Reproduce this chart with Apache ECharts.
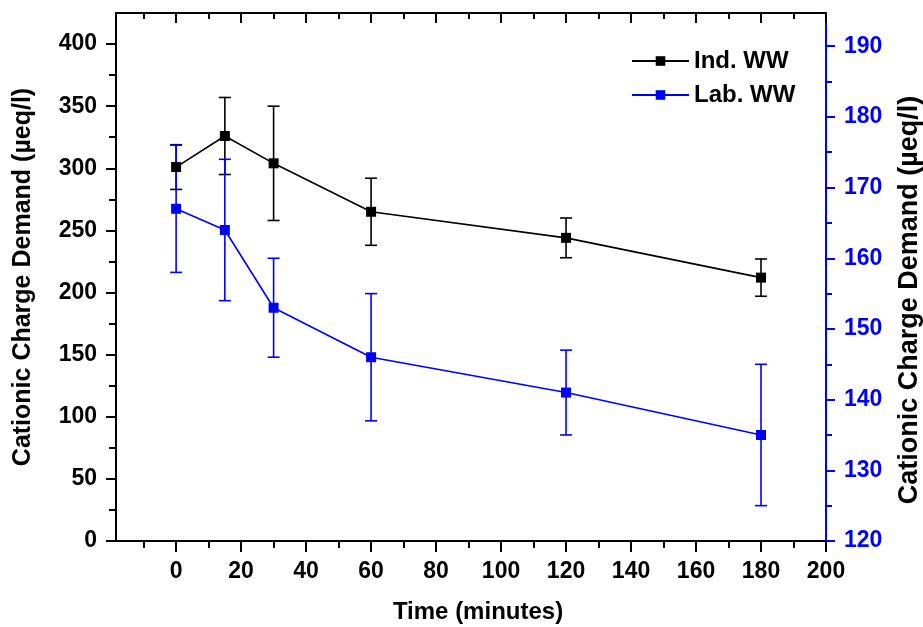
<!DOCTYPE html>
<html>
<head>
<meta charset="utf-8">
<title>Cationic Charge Demand</title>
<script src="https://cdn.jsdelivr.net/npm/echarts@6/dist/echarts.min.js"></script>
<style>
    html, body { margin: 0; padding: 0; background: #fff; }
    #chart { width: 923px; height: 627px; }
</style>
</head>
<body>
<div id="chart"></div>
<script>
// values
const times = [0, 15, 30, 60, 120, 180];
const indWW = [301, 326, 304, 265, 244, 212];
const indErr = [18, 31, 46, 27, 16, 15];
const labWW = [167, 164, 153, 146, 141, 135];
const labErr = [9, 10, 7, 9, 6, 10];

const xMajor = [0, 20, 40, 60, 80, 100, 120, 140, 160, 180, 200];
const xMinor = [-10, 10, 30, 50, 70, 90, 110, 130, 150, 170, 190];
const leftMajor = [0, 50, 100, 150, 200, 250, 300, 350, 400];
const leftMinor = [25, 75, 125, 175, 225, 275, 325, 375];
const rightMajor = [120, 130, 140, 150, 160, 170, 180, 190];
const rightMinor = [125, 135, 145, 155, 165, 175, 185];

const BLUE = '#0000ff';
const FONT = '"Liberation Sans", Arial, sans-serif';

let chart = echarts.init(document.getElementById('chart'));

function errorBars(values, errs) {
    return times.map(function (t, i) {
        return [t, values[i] - errs[i], values[i] + errs[i]];
    });
}

function renderErr(params, api) {
    let x = api.value(0);
    let top = api.coord([x, api.value(2)]);
    let bot = api.coord([x, api.value(1)]);
    let w = 6;
    let style = { stroke: api.visual('color'), lineWidth: 1.6 };
    return {
        type: 'group',
        children: [
            { type: 'line', shape: { x1: top[0], y1: top[1], x2: bot[0], y2: bot[1] }, style: style },
            { type: 'line', shape: { x1: top[0] - w, y1: top[1], x2: top[0] + w, y2: top[1] }, style: style },
            { type: 'line', shape: { x1: bot[0] - w, y1: bot[1], x2: bot[0] + w, y2: bot[1] }, style: style }
        ]
    };
}

// only ticks, for the minor/extra axes
function tickAxis(extra) {
    return Object.assign({
        type: 'value',
        axisLine: { show: false, onZero: false },
        axisLabel: { show: false },
        splitLine: { show: false }
    }, extra);
}

let xMin = -18.5, xMax = 200;
let lMin = 0, lMax = 425;
let rMin = 120, rMax = 194.7;

let option = {
    animation: false,
    backgroundColor: '#fff',
    textStyle: { fontFamily: FONT },
    grid: { left: 116, right: 97, top: 13, bottom: 86, outerBoundsMode: 'none', containLabel: false },
    legend: {
        left: 626,
        top: 44,
        orient: 'vertical',
        itemWidth: 57,
        itemHeight: 12,
        itemGap: 10,
        textStyle: { fontSize: 24, fontWeight: 'bold', color: '#000', fontFamily: FONT },
        data: ['Ind. WW', 'Lab. WW']
    },
    xAxis: [
        {
            type: 'value', position: 'bottom', min: xMin, max: xMax,
            name: 'Time (minutes)', nameLocation: 'middle', nameGap: 59,
            nameTextStyle: { fontSize: 24, fontWeight: 'bold', color: '#000', fontFamily: FONT, padding: [0, 0, 0, 14] },
            axisLine: { onZero: false, lineStyle: { color: '#000', width: 2 } },
            axisTick: { customValues: xMajor, length: 11, lineStyle: { color: '#000', width: 2 } },
            axisLabel: { customValues: xMajor, margin: 19, fontSize: 23, fontWeight: 'bold', color: '#000', fontFamily: FONT },
            splitLine: { show: false }
        },
        tickAxis({ position: 'bottom', min: xMin, max: xMax,
            axisTick: { customValues: xMinor, length: 7, lineStyle: { color: '#000', width: 2 } } }),
        tickAxis({ position: 'top', min: xMin, max: xMax,
            axisLine: { show: true, onZero: false, lineStyle: { color: '#000', width: 2 } },
            axisTick: { inside: true, customValues: xMajor, length: 10, lineStyle: { color: '#000', width: 2 } } }),
        tickAxis({ position: 'top', min: xMin, max: xMax,
            axisTick: { inside: true, customValues: xMinor, length: 6, lineStyle: { color: '#000', width: 2 } } })
    ],
    yAxis: [
        {
            type: 'value', position: 'left', min: lMin, max: lMax,
            name: 'Cationic Charge Demand (µeq/l)', nameLocation: 'middle', nameGap: 80, nameRotate: 90,
            nameTextStyle: { fontSize: 25, fontWeight: 'bold', color: '#000', fontFamily: FONT },
            axisLine: { show: true, onZero: false, lineStyle: { color: '#000', width: 2 } },
            axisTick: { customValues: leftMajor, length: 10, lineStyle: { color: '#000', width: 2 } },
            axisLabel: { customValues: leftMajor, margin: 19, fontSize: 23, fontWeight: 'bold', color: '#000', fontFamily: FONT },
            splitLine: { show: false }
        },
        {
            type: 'value', position: 'right', min: rMin, max: rMax,
            name: 'Cationic Charge Demand (µeq/l)', nameLocation: 'middle', nameGap: 70, nameRotate: 90,
            nameTextStyle: { fontSize: 27, fontWeight: 'bold', color: '#000', fontFamily: FONT, padding: [0, 46, 0, 0] },
            axisLine: { show: true, onZero: false, lineStyle: { color: BLUE, width: 2 } },
            axisTick: { customValues: rightMajor, length: 9, lineStyle: { color: BLUE, width: 2 } },
            axisLabel: { customValues: rightMajor, margin: 18, fontSize: 23, fontWeight: 'bold', color: BLUE, fontFamily: FONT },
            splitLine: { show: false }
        },
        tickAxis({ position: 'left', min: lMin, max: lMax,
            axisTick: { customValues: leftMinor, length: 7, lineStyle: { color: '#000', width: 2 } } }),
        tickAxis({ position: 'right', min: rMin, max: rMax,
            axisTick: { customValues: rightMinor, length: 6, lineStyle: { color: BLUE, width: 2 } } })
    ],
    series: [
        {
            name: 'Ind. WW err', type: 'custom', xAxisIndex: 0, yAxisIndex: 0,
            renderItem: renderErr, encode: { x: 0, y: [1, 2] },
            itemStyle: { color: '#000' }, z: 2,
            data: errorBars(indWW, indErr)
        },
        {
            name: 'Lab. WW err', type: 'custom', xAxisIndex: 0, yAxisIndex: 1,
            renderItem: renderErr, encode: { x: 0, y: [1, 2] },
            itemStyle: { color: BLUE }, z: 2,
            data: errorBars(labWW, labErr)
        },
        {
            name: 'Ind. WW', type: 'line', xAxisIndex: 0, yAxisIndex: 0,
            symbol: 'rect', symbolSize: 10, z: 3,
            lineStyle: { color: '#000', width: 1.6 },
            itemStyle: { color: '#000' },
            data: times.map(function (t, i) { return [t, indWW[i]]; })
        },
        {
            name: 'Lab. WW', type: 'line', xAxisIndex: 0, yAxisIndex: 1,
            symbol: 'rect', symbolSize: 10, z: 3,
            lineStyle: { color: BLUE, width: 1.6 },
            itemStyle: { color: BLUE },
            data: times.map(function (t, i) { return [t, labWW[i]]; })
        }
    ]
};

chart.setOption(option);
</script>
</body>
</html>
